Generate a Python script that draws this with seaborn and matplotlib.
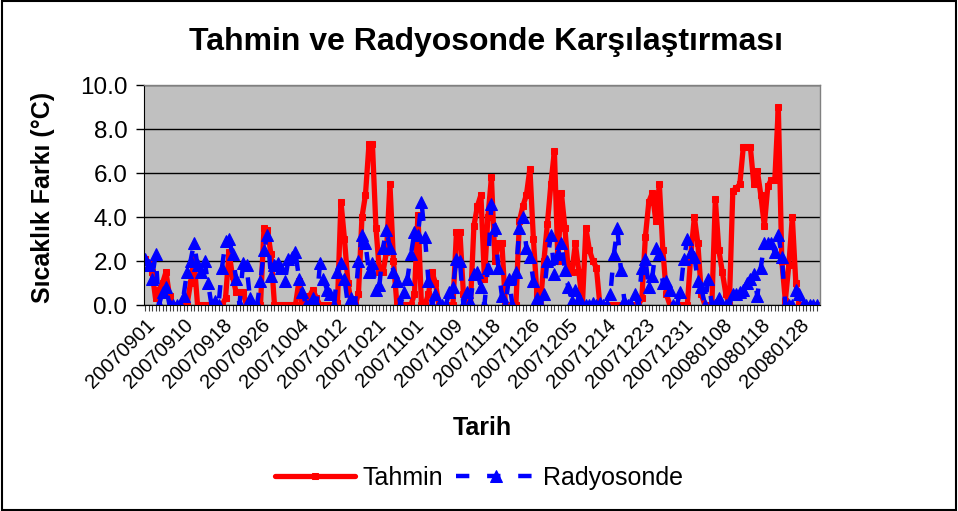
import numpy as np
import pandas as pd
import seaborn as sns
import matplotlib.pyplot as plt
from matplotlib.patches import Rectangle

# Tahmin (forecast) temperature difference, one value per observation
tahmin = [
    2.1, 1.9, 1.5, 0.3, 0.7, 1.0, 1.5, 0.4, 0, 0,
    0, 0, 0, 1.0, 2.1, 0, 0, 0, 0, 0,
    0, 0, 0, 0.3, 2.4, 1.3, 0.6, 0.6, 0.6, 0,
    0, 0, 0, 0, 3.5, 3.4, 2.3, 0, 0, 0,
    0, 0, 0, 0, 1.1, 0.2, 0, 0.4, 0.7, 0.3,
    0, 0, 0, 0, 0, 0.1, 4.7, 3.0, 1.0, 0,
    0, 0.5, 4.0, 5.0, 7.3, 7.3, 3.5, 1.5, 1.5, 2.4,
    5.5, 2.0, 0, 0, 0, 0, 0, 0.5, 4.1, 0,
    0, 0.5, 1.5, 1.0, 0, 0, 0, 0, 0, 3.3,
    3.3, 0.5, 0, 0, 3.6, 4.5, 5.0, 1.2, 4.0, 5.8,
    2.0, 2.8, 2.8, 0, 0, 0, 0, 3.8, 4.5, 5.0,
    6.2, 3.0, 0.5, 0, 2.0, 3.7, 5.5, 7.0, 2.0, 5.1,
    3.5, 1.5, 1.5, 2.8, 1.5, 0, 3.5, 2.5, 2.0, 1.7,
    0, 0, 0, 0, 0, 0, 0, 0, 0, 0,
    0, 0, 0.3, 3.1, 4.7, 5.1, 3.8, 5.5, 2.5, 0.5,
    0, 0, 0, 0, 0, 0, 2.3, 4.0, 2.8, 0.5,
    0, 0, 0, 4.8, 2.5, 1.5, 0.5, 0, 5.2, 5.3,
    5.5, 7.2, 7.2, 7.2, 5.5, 6.1, 5.0, 3.6, 5.4, 5.7,
    5.7, 9.0, 2.0, 0.2, 1.8, 4.0, 1.0, 0, 0, 0,
    0, 0, 0,
]

# Radyosonde temperature difference
radyosonde = [
    2.1, 1.8, 1.2, 2.3, 0, 0.6, 0.8, 0, 0, 0,
    0, 0.4, 1.5, 2.0, 2.8, 1.8, 1.5, 2.0, 1.0, 0,
    0.2, 0, 1.7, 2.9, 3.0, 2.3, 1.2, 0, 1.9, 1.8,
    0.3, 0, 0, 1.1, 2.5, 3.2, 1.3, 1.8, 1.9, 1.7,
    1.1, 2.1, 2.2, 2.4, 1.2, 0.6, 0, 0, 0.3, 0,
    1.9, 1.2, 0.7, 0.5, 0, 1.5, 1.9, 1.2, 0, 0.3,
    0, 2.0, 3.2, 2.8, 1.5, 1.9, 0.7, 0.9, 2.6, 3.4,
    2.6, 1.5, 1.1, 0, 0.6, 1.2, 2.3, 3.3, 3.2, 4.7,
    3.1, 1.1, 0, 0.5, 0, 0, 0, 0.6, 0.8, 2.1,
    2.0, 0, 0.6, 0.15, 1.4, 1.5, 0.8, 0, 1.7, 4.6,
    3.5, 1.7, 0.4, 0, 1.2, 0, 1.5, 3.5, 4.0, 2.6,
    2.2, 1.1, 0.3, 0, 0.5, 2.0, 3.2, 1.4, 2.3, 2.8,
    1.6, 0.8, 0.2, 0.7, 0.3, 0, 0, 0, 0.1, 0,
    0.1, 0, 0, 0.5, 2.3, 3.5, 1.6, 0.2, 0, 0,
    0.5, 0, 1.7, 2.1, 0.8, 1.3, 2.6, 2.3, 1.0, 1.1,
    0.7, 0, 0, 0.6, 2.1, 3.0, 2.4, 2.2, 1.1, 0.8,
    0, 1.2, 0, 0, 0.3, 0, 0, 0, 0.5, 0.5,
    0.6, 0.7, 1.0, 1.2, 1.4, 0.4, 1.7, 2.8, 2.8, 2.8,
    2.4, 3.2, 2.2, 0, 0, 0, 0.7, 0.5, 0, 0,
    0, 0, 0,
]

# category labels shown on the x axis (every 11th observation)
tarih_labels = [
    "20070901", "20070910", "20070918", "20070926", "20071004", "20071012",
    "20071021", "20071101", "20071109", "20071118", "20071126", "20071205",
    "20071214", "20071223", "20071231", "20080108", "20080118", "20080128",
]
label_step = 11

df = pd.DataFrame({"idx": np.arange(len(tahmin)), "Tahmin": tahmin, "Radyosonde": radyosonde})

sns.set_style("white")
plt.rcParams["font.family"] = ["Liberation Sans", "DejaVu Sans"]
plt.rcParams.update({"text.color": "black", "axes.labelcolor": "black",
                     "xtick.color": "black", "ytick.color": "black"})

fig = plt.figure(figsize=(9.58, 5.11), dpi=100)
ax = fig.add_axes([0.1503, 0.4031, 0.7056, 0.4305])
ax.set_facecolor("#C0C0C0")

sns.lineplot(data=df, x="idx", y="Tahmin", ax=ax, color="red", lw=3.8,
             marker="s", markersize=4, markeredgecolor="red", label="Tahmin")
sns.lineplot(data=df, x="idx", y="Radyosonde", ax=ax, color="blue", lw=3.2,
             linestyle=(0, (3, 4)), marker="^", markersize=8,
             markeredgecolor="blue", label="Radyosonde")

ax.set_xlim(-0.3, len(tahmin) - 0.1)
ax.set_ylim(0, 10)
ax.set_yticks(np.arange(0, 10.1, 2))
ax.set_yticklabels([f"{v:.1f}" for v in np.arange(0, 10.1, 2)], fontsize=17.5)
ax.yaxis.grid(True, color="black", lw=1)
ax.set_axisbelow(True)

pos = np.arange(0, len(tahmin), label_step)[:len(tarih_labels)]
ax.set_xticks(pos)
ax.set_xticklabels(tarih_labels, rotation=45, ha="right", rotation_mode="anchor", fontsize=14.5)
ax.set_xticks(np.arange(len(tahmin)), minor=True)
ax.tick_params(axis="x", which="both", direction="out", length=4, width=0.8, color="#404040", bottom=True)
ax.tick_params(axis="y", direction="out", length=6, width=1, color="black", left=True, pad=6)

ax.set_xlabel("")
ax.set_ylabel("")
for s in ["top", "right"]:
    ax.spines[s].set_color("#808080")
    ax.spines[s].set_linewidth(1)
ax.spines["left"].set_color("black")
ax.spines["bottom"].set_color("black")

handles, labels = ax.get_legend_handles_labels()
ax.get_legend().remove()
fig.legend(handles, labels, loc="center", bbox_to_anchor=(0.5, 0.065), ncol=2,
           frameon=False, fontsize=18, handlelength=3.2, columnspacing=0.5,
           handletextpad=0.3)

fig.text(0.507, 0.918, "Tahmin ve Radyosonde Karşılaştırması", ha="center", va="center",
         fontsize=23, fontweight="bold")
fig.text(0.045, 0.614, "Sıcaklık Farkı (°C)", ha="center", va="center", rotation=90,
         fontsize=18, fontweight="bold")
fig.text(0.503, 0.162, "Tarih", ha="center", va="center", fontsize=18, fontweight="bold")

fig.patches.append(Rectangle((0.002, 0.002), 0.996, 0.996, transform=fig.transFigure,
                             fill=False, edgecolor="black", lw=1.5))

fig.savefig("out.png", dpi=100)
